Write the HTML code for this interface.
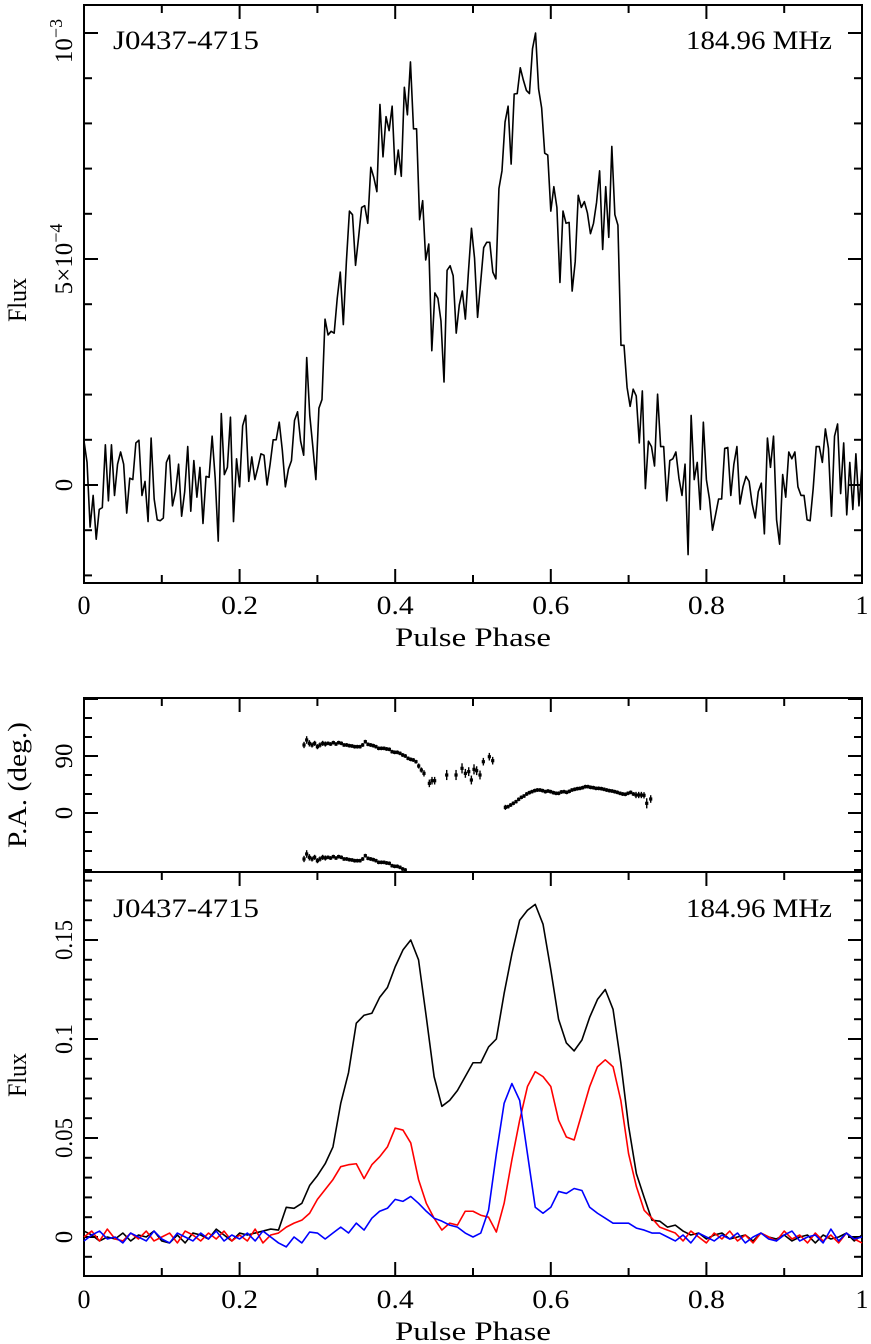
<!DOCTYPE html>
<html><head><meta charset="utf-8"><style>
html,body{margin:0;padding:0;background:#fff;}
svg{display:block;}
text{font-family:"Liberation Serif",serif;fill:#000;}
</style></head><body>
<svg id="fig" width="871" height="1344" viewBox="0 0 871 1344" xmlns="http://www.w3.org/2000/svg"></svg>
<script>
// ---- top panel data (flux, units of 1e-4) ----
const topFlux = [0.97,0.5,-0.93,-0.23,-1.2,-0.54,-0.5,0.89,-0.35,0.89,-0.23,0.46,0.73,0.46,-0.62,0.15,0.12,0.93,0.99,-0.23,0.08,-0.81,1.04,-0.31,-0.77,-0.79,-0.73,0.5,0.66,-0.46,-0.15,0.46,-0.69,-0.15,0.85,-0.58,0.54,-0.27,0.39,-0.85,0.19,0.17,1.08,0.15,-1.24,1.58,0.23,0.39,1.5,-0.81,0.58,-0.04,1.31,1.54,0.08,0.62,0.12,0.39,0.69,0.66,0,0.46,1.0,1.0,1.39,0.77,-0.04,0.35,0.54,1.43,1.62,0.97,0.66,2.82,1.54,0.85,0.12,1.7,1.89,3.67,3.32,3.4,3.36,4.13,4.71,3.55,4.94,6.06,5.98,4.86,5.48,6.14,6.18,5.79,7.03,6.8,6.49,8.42,7.26,8.15,7.84,8.38,6.87,7.41,6.83,8.8,8.19,9.36,7.88,7.88,5.87,6.29,4.98,5.33,2.97,4.25,4.13,3.63,2.28,4.75,4.85,4.63,3.36,3.98,4.29,3.67,4.71,5.68,5.02,
3.71,4.48,5.25,5.37,5.37,4.71,4.56,6.56,6.95,8.03,8.38,7.1,8.65,8.66,9.23,8.96,8.73,8.66,9.65,10.0,8.76,8.34,7.34,7.3,6.06,6.6,6.14,4.48,6.06,5.79,5.81,4.29,4.94,6.41,6.14,6.27,6.02,5.56,5.79,6.25,6.95,5.21,6.6,5.48,7.49,5.98,5.75,3.09,3.09,2.16,1.74,2.12,1.97,0.93,2.08,-0.08,0.97,0.85,0.42,2.01,0.85,0.85,-0.35,0.54,0.58,0.73,0.15,-0.23,0.46,-1.54,1.54,0.12,0.5,-0.54,1.39,0.12,-0.31,-1.0,-0.66,-0.31,-0.31,0.81,0.83,-0.23,0.46,0.85,-0.42,-0.04,0.19,0.08,-0.42,-0.73,-0.15,0.04,-1.08,1.04,0.39,1.08,-0.77,-1.31,0.23,-0.27,0.73,0.58,0.73,-0.04,-0.23,-0.23,-0.77,-0.79,-0.08,0.85,0.85,0.5,1.24,0.81,-0.69,1.08,1.35,-0.19,0.93,-0.66,0.5,-0.54,0.69,-0.46,0.42];
const topYTicks = ["0","5×10","10"];

// ---- PA data (degrees) ----
const paPhase = [0.2828,0.2862,0.2897,0.2931,0.2965,0.3000,0.3033,0.3068,0.3102,0.3136,0.3170,0.3205,0.3239,0.3273,0.3308,0.3342,0.3376,0.3410,0.3445,0.3479,0.3513,0.3548,0.3582,0.3616,0.3650,0.3685,0.3719,0.3753,0.3787,0.3822,0.3856,0.3890,0.3925,0.3959,0.3993,0.4027,0.4062,0.4096,0.4130,0.4165,0.4199,0.4233,0.4267,0.4302,0.4336,0.4370,0.4439,0.4473,0.4507,0.4662,0.4782,0.4859,0.4902,0.4945,0.4979,0.5013,0.5047,0.5090,0.5133,0.5210,0.5253,0.5416,0.5450,0.5484,0.5518,0.5553,0.5587,0.5621,0.5656,0.5690,0.5724,0.5758,0.5793,0.5827,0.5861,0.5895,0.5930,0.5964,0.5998,0.6033,0.6067,0.6101,0.6135,0.6170,0.6204,0.6238,0.6272,0.6307,0.6341,0.6375,0.6410,0.6444,0.6478,0.6512,0.6547,0.6581,0.6615,0.6650,0.6684,0.6718,0.6752,0.6787,0.6821,0.6855,0.6890,0.6924,0.6958,0.6992,0.7027,0.7061,0.7095,0.7130,0.7164,0.7198,0.7233,0.7284];
const paValue = [107.4,115.3,110.0,107.4,110.0,104.7,107.4,110.0,108.9,110.0,108.9,111.1,108.9,111.1,110.0,107.4,107.4,106.3,105.8,104.7,104.7,104.7,107.4,112.6,108.4,107.4,106.3,104.7,102.1,102.1,102.1,101.1,100.5,96.8,95.8,95.8,94.2,91.6,90.0,86.3,84.7,83.7,81.0,74.2,67.9,62.6,46.8,51.0,51.0,60.0,60.0,70.5,62.6,65.3,52.1,68.9,66.8,60.0,81.0,88.9,82.6,8.9,10.0,12.6,15.3,17.9,21.6,24.7,26.8,30.0,32.1,33.7,35.3,36.3,36.3,35.3,33.7,34.7,33.7,32.1,31.1,31.1,33.2,33.7,32.6,34.2,36.3,37.4,38.4,38.9,40.0,41.6,41.6,40.5,40.0,38.9,38.9,38.4,37.4,36.3,35.3,34.7,33.7,32.6,31.1,30.0,29.5,31.1,32.6,30.0,28.4,28.4,28.4,27.9,15.3,22.1];
const paErr = [5,6,5,4,4,4,4,4,4,3,3,3,3,3,3,3,3,3,3,3,3,3,3,3,3,3,3,3,3,3,3,3,3,3,3,3,3,3,3,3,3,3,3,4,4,5,6,6,6,8,8,8,7,7,7,8,7,7,6,6,6,4,3,3,3,3,3,3,3,3,3,3,3,3,3,3,3,3,3,3,3,3,3,3,3,3,3,3,3,3,3,3,3,3,3,3,3,3,3,3,3,3,3,3,3,3,3,3,3,3,5,5,5,5,8,6];
const paTicks = ["0","90"];

// ---- bottom panel (units of 0.01) ----
const botTotal = [0.3,0.1,-0.2,0.0,-0.1,0.2,-0.2,0.1,0.0,0.3,-0.2,-0.3,0.1,-0.3,0.2,0.1,-0.1,0.4,0.1,-0.2,0.2,0.1,0.2,0.3,0.4,
0.35,1.5,1.45,1.7,2.6,3.1,3.7,4.55,6.75,8.3,10.8,11.2,11.3,12.1,12.6,13.65,14.5,15.0,14.0,11.1,8.1,6.6,6.9,7.4,8.1,8.8,8.8,9.6,10.0,12.3,14.3,16.0,16.5,16.8,15.8,13.5,11.0,9.8,9.4,9.95,11.1,12.0,12.5,11.5,8.8,5.6,3.2,2.0,0.85,0.8,0.5,
0.6,0.3,0.1,0.2,-0.1,0.1,0.2,-0.1,0.0,0.1,-0.2,0.2,0.0,-0.1,0.1,-0.2,0.0,0.1,-0.3,0.1,-0.1,0.0,0.2,-0.2,0.1];
const botLinear = [0.0,0.3,-0.2,0.4,-0.1,-0.2,0.2,-0.1,0.3,-0.2,0.0,0.2,-0.3,0.3,0.1,-0.2,0.2,-0.1,0.3,-0.2,0.1,-0.2,0.4,-0.3,0.1,
0.2,0.5,0.7,0.85,1.2,1.9,2.4,2.9,3.55,3.65,3.7,2.95,3.65,4.05,4.55,5.5,5.4,4.75,2.9,1.7,0.95,0.35,0.7,0.6,1.3,1.3,1.1,1.0,0.25,1.7,3.9,5.9,7.6,8.35,8.1,7.6,5.9,5.05,4.9,6.25,7.6,8.6,8.95,8.6,6.9,4.2,2.55,1.35,0.95,0.5,0.35,
0.2,-0.2,0.3,0.0,-0.3,0.2,-0.1,0.3,-0.2,0.1,-0.3,0.2,0.0,-0.2,0.3,-0.1,0.1,-0.3,0.2,-0.2,0.1,-0.3,0.2,-0.1,-0.3];
const botCircular = [-0.2,0.1,0.3,-0.1,0.0,-0.3,0.2,0.0,-0.2,0.3,-0.1,-0.3,0.2,0.0,-0.2,0.2,-0.1,0.3,-0.2,0.1,-0.1,0.2,-0.2,0.3,0.0,
-0.3,-0.5,0.0,-0.3,0.25,0.2,-0.1,0.2,0.5,0.2,0.7,0.35,0.95,1.3,1.45,1.9,1.8,2.05,1.7,1.3,0.95,0.8,0.6,0.5,0.2,0.0,0.2,1.35,4.2,6.75,7.75,6.9,4.2,1.5,1.2,1.5,2.3,2.2,2.45,2.35,1.5,1.2,0.95,0.7,0.7,0.7,0.45,0.35,0.2,0.2,0.0,
-0.2,0.1,-0.3,0.2,0.0,-0.2,0.1,-0.1,0.2,-0.3,0.0,0.2,-0.1,-0.2,0.1,0.3,-0.2,0.0,0.1,-0.3,0.4,-0.2,0.2,-0.1,0.0];
const botYTicks = ["0","0.05","0.1","0.15"];
const xTicks = ["0","0.2","0.4","0.6","0.8","1"];

const NS="http://www.w3.org/2000/svg";
const svg=document.getElementById('fig');
function mk(tag,attrs,parent){const e=document.createElementNS(NS,tag);for(const k in attrs)e.setAttribute(k,attrs[k]);(parent||svg).appendChild(e);return e;}
const L=84,R=862;
const X=p=>L+p*(R-L);
const P1={t:5,b:583}, P2={t:698,b:872}, P3={t:872,b:1276};
const y1=v=>485-v*45.2;
const y2=d=>813-d*57/90;
const y3=v=>1237-v*19.8;

function frame(P,name){
  const r=mk('rect',{x:L,y:P.t,width:R-L,height:P.b-P.t,fill:'none',stroke:'#000','stroke-width':2});
  
  
}
function xTicksFor(P,top,bottom){
  for(let i=0;i<=10;i++){
    const x=X(i/10), len=(i%2===0)?14:8;
    if(bottom){const t=mk('line',{x1:x,x2:x,y1:P.b,y2:P.b-len,stroke:'#000','stroke-width':2});}
    if(top){const t=mk('line',{x1:x,x2:x,y1:P.t,y2:P.t+len,stroke:'#000','stroke-width':2});}
  }
}
function yTicksFor(P,yf,vals,majors){
  vals.forEach(v=>{
    const y=yf(v); if(y<P.t||y>P.b) return;
    const len=majors.includes(v)?14:8;
    const a=mk('line',{x1:L,x2:L+len,y1:y,y2:y,stroke:'#000','stroke-width':2});
    
    const b=mk('line',{x1:R,x2:R-len,y1:y,y2:y,stroke:'#000','stroke-width':2});
    
  });
}
function xLabels(base,name){
  xTicks.forEach((s,i)=>{
    const t=mk('text',{x:X(i*0.2),y:base,'font-size':26,'text-anchor':'middle'});t.textContent=s;
    if(s.length>1){t.setAttribute('textLength',37);t.setAttribute('lengthAdjust','spacingAndGlyphs');}
    
  });
}
function rotText(x,y,str,size,name,len){
  const t=mk('text',{x:0,y:0,'font-size':size,'text-anchor':'middle',transform:`translate(${x},${y}) rotate(-90)`});
  if(len){t.setAttribute('textLength',len);t.setAttribute('lengthAdjust','spacingAndGlyphs');}
  t.textContent=str;return t;
}
function label(x,y,str,anchor,name){
  const t=mk('text',{x:x,y:y,'font-size':26,'text-anchor':anchor,textLength:146,lengthAdjust:'spacingAndGlyphs'});
  t.textContent=str;
}
function title(y,name){
  const t=mk('text',{x:473,y:y,'font-size':26,'text-anchor':'middle',textLength:156,lengthAdjust:'spacingAndGlyphs'});
  t.textContent='Pulse Phase';
}

// ===== Top panel =====
frame(P1,'top-panel-frame');
xTicksFor(P1,true,true);
const tv=[];for(let k=-2;k<=10;k++)tv.push(k);
yTicksFor(P1,y1,tv,[0,5,10]);
{
  let d='';
  topFlux.forEach((v,i)=>{const p=i/(topFlux.length-1);d+=(i?'L':'M')+X(p).toFixed(2)+','+y1(v).toFixed(2);});
  const pl=mk('path',{d:d,fill:'none',stroke:'#000','stroke-width':1.6,'stroke-linejoin':'round'});
  
}
label(113,49,'J0437-4715','start','pulsar-name-label');
label(832,49,'184.96 MHz','end','frequency-label');
xLabels(614,'x-tick-label');
title(646,'x-axis-title');
rotText(26,300,'Flux',26,'y-axis-title',44);
rotText(72,y1(0),topYTicks[0],25,'y-tick-label');
{const t=rotText(72,y1(5),'',25,'y-tick-label');t.textContent=topYTicks[1];const s=mk('tspan',{dy:-10,'font-size':18},t);s.textContent='−4';}
{const t=rotText(72,y1(10)+8,'',25,'y-tick-label');t.textContent=topYTicks[2];const s=mk('tspan',{dy:-10,'font-size':18},t);s.textContent='−3';}

// ===== PA panel =====
frame(P2,'pa-panel-frame');
xTicksFor(P2,true,false);
yTicksFor(P2,y2,[-90,-60,-30,0,30,60,90,120,150,180],[0,90,180]);
{
  const cpath=mk('clipPath',{id:'clipPA'});
  mk('rect',{x:L,y:P2.t,width:R-L,height:P2.b-P2.t},cpath);
}
const gPA=mk('g',{'clip-path':'url(#clipPA)'});


[0,-180].forEach(off=>{
  paPhase.forEach((p,i)=>{
    if(off<0 && paValue[i]<90) return;
    const x=X(p), v=paValue[i]+off, e=paErr[i];
    const bar=mk('line',{x1:x,x2:x,y1:y2(v-e),y2:y2(v+e),stroke:'#000','stroke-width':1.4},gPA);
    
    const pt=mk('rect',{x:x-1.6,y:y2(v)-1.6,width:3.2,height:3.2,fill:'#000'},gPA);
    
  });
});
rotText(72,y2(90),paTicks[1],25,'pa-tick-label');
rotText(72,y2(0),paTicks[0],25,'pa-tick-label');
rotText(26,785,'P.A. (deg.)',26,'pa-axis-title',126);

// ===== Bottom panel =====
frame(P3,'bottom-panel-frame');
xTicksFor(P3,true,true);
const bv=[];for(let k=-1;k<=18;k++)bv.push(k);
yTicksFor(P3,y3,bv,[0,5,10,15]);
[[botTotal,'#000','total-intensity-line'],[botLinear,'#ff0000','linear-polarization-line'],[botCircular,'#0000ff','circular-polarization-line']].forEach(([arr,c,name])=>{
  let d='';arr.forEach((v,i)=>{const p=i/(arr.length-1);d+=(i?'L':'M')+X(p).toFixed(2)+','+y3(v).toFixed(2);});
  const pl=mk('path',{d:d,fill:'none',stroke:c,'stroke-width':1.6,'stroke-linejoin':'round'});
  
});
label(113,917,'J0437-4715','start','pulsar-name-label-bottom');
label(832,917,'184.96 MHz','end','frequency-label-bottom');
xLabels(1308,'x-tick-label-bottom');
title(1340,'x-axis-title-bottom');
rotText(26,1075,'Flux',26,'y-axis-title-bottom',44);
botYTicks.forEach((s,i)=>rotText(72,y3(i*5),s,25,'y-tick-label-bottom',s.length>1?(s.length*10):0));
</script>
</body></html>
